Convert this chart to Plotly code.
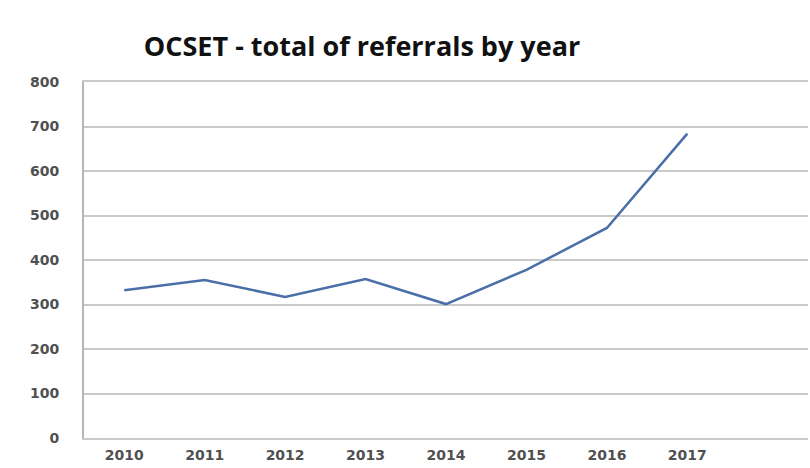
import plotly.graph_objects as go

years = ["2010", "2011", "2012", "2013", "2014", "2015", "2016", "2017"]
referrals = [332, 355, 317, 357, 301, 378, 472, 684]
y_ticks = [0, 100, 200, 300, 400, 500, 600, 700, 800]

fig = go.Figure()
fig.add_trace(go.Scatter(
    x=years, y=referrals, mode="lines",
    line=dict(color="#4a6fa8", width=2.5),
    hoverinfo="x+y",
))

fig.update_layout(
    width=810, height=468,
    margin=dict(l=84, r=2, t=82, b=30),
    paper_bgcolor="white", plot_bgcolor="white",
    showlegend=False,
    title=dict(
        text="<b>OCSET - total of referrals by year</b>",
        x=362/810, xref="container", xanchor="center",
        y=1-47/468, yref="container", yanchor="middle",
        font=dict(family="Open Sans", size=27, color="#111111"),
    ),
    font=dict(family="DejaVu Sans", size=14, color="#555555"),
)
fig.update_xaxes(
    type="category", range=[-0.5, 8.5],
    showgrid=False, showline=True, mirror=True,
    linecolor="#c9c9c9", linewidth=2, zeroline=False,
    ticks="", ticklabelstandoff=3,
    tickfont=dict(family="DejaVu Sans", size=14, color="#505050", weight="bold"),
)
fig.update_yaxes(
    range=[0, 800], tickvals=y_ticks,
    showgrid=True, gridcolor="#c9c9c9", gridwidth=2,
    showline=True, linecolor="#b5b5b5", linewidth=2,
    zeroline=False, ticks="", ticklabelstandoff=20,
    tickfont=dict(family="DejaVu Sans", size=14, color="#505050", weight="bold"),
)

fig.write_html("out.html")
